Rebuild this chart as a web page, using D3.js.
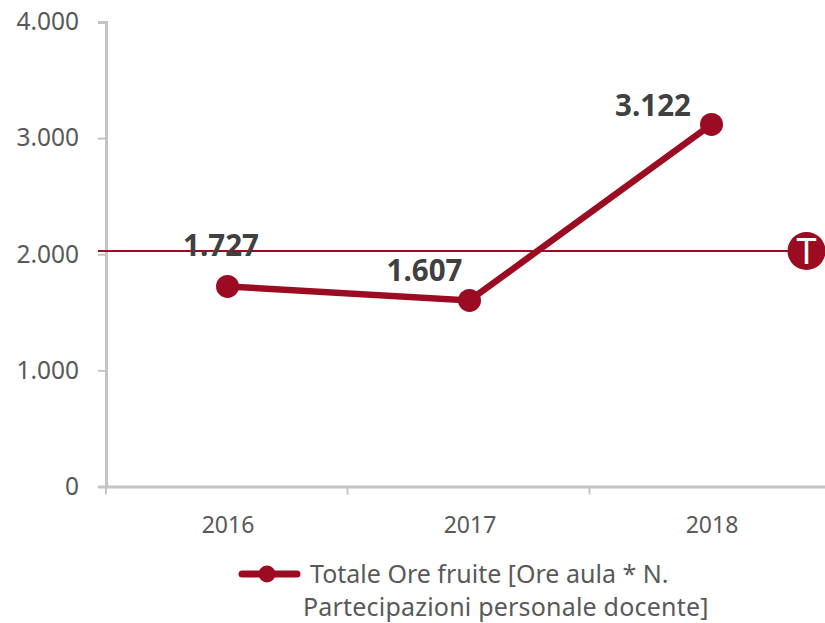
<!DOCTYPE html>
<html><head><meta charset="utf-8">
<script src="https://cdn.jsdelivr.net/npm/d3@7/dist/d3.min.js"></script>
<style>html,body{margin:0;padding:0;background:#fff}svg{display:block}text{font-family:"Noto Sans",sans-serif}</style>
</head><body><svg id="c" width="825" height="623"></svg>
<script>
const categories=["2016","2017","2018"];
const values=[1727,1607,3122];
const valueLabels=["1.727","1.607","3.122"];
const yTicks=[0,1000,2000,3000,4000];
const yTickLabels=["0","1.000","2.000","3.000","4.000"];
const targetValue=2028;
const legendLines=["Totale Ore fruite [Ore aula * N.","Partecipazioni personale docente]"];
const red="#9b0c23",grey="#595959",axisC="#c4c4c4";
const svg=d3.select("#c");
const x=d3.scaleBand().domain(categories).range([106,832]);
const y=d3.scaleLinear().domain([0,4000]).range([486.5,22]);
const gy=svg.append("g").attr("transform","translate(106,0)").call(d3.axisLeft(y).tickValues(yTicks).tickSize(8).tickPadding(10).tickFormat((d,i)=>yTickLabels[i]));
const gx=svg.append("g").attr("transform","translate(0,486.5)").call(d3.axisBottom(x).tickSize(0).tickPadding(30));
gx.append("g").selectAll("line").data(x.domain().slice(1)).join("line").attr("x1",d=>x(d)-0.5).attr("x2",d=>x(d)-0.5).attr("y1",0).attr("y2",8).attr("stroke",axisC).attr("stroke-width",2);
gx.append("line").attr("x1",x(categories[0])).attr("x2",x(categories[0])).attr("y1",0).attr("y2",8).attr("stroke",axisC).attr("stroke-width",2);
[gy,gx].forEach(g=>{g.selectAll("path.domain").attr("stroke",axisC).attr("stroke-width",3).attr("fill","none");
 g.selectAll(".tick line").attr("stroke",axisC).attr("stroke-width",2);
 g.selectAll("text").attr("fill",grey).attr("font-family",'"Noto Sans",sans-serif');});
gy.selectAll("text").attr("font-size",24.5).attr("x",-27);
gx.selectAll("text").attr("font-size",23).attr("dx",1);
svg.append("line").attr("x1",98).attr("x2",806).attr("y1",y(targetValue)).attr("y2",y(targetValue)).attr("stroke",red).attr("stroke-width",2);
const cx=d=>x(d)+x.bandwidth()/2+0.5;
const line=d3.line().x((d,i)=>cx(categories[i])).y(d=>y(d)+0.5);
svg.append("path").attr("d",line(values)).attr("fill","none").attr("stroke",red).attr("stroke-width",6.5);
svg.selectAll("circle.p").data(values).join("circle").attr("class","p").attr("cx",(d,i)=>cx(categories[i])).attr("cy",d=>y(d)+0.5).attr("r",11.5).attr("fill",red);
svg.selectAll("text.v").data(values).join("text").attr("class","v").attr("x",(d,i)=>cx(categories[i])-[6.5,45,58.5][i]).attr("y",(d,i)=>y(d)-[30,19,8][i]).attr("text-anchor","middle").attr("font-size",29.5).attr("font-weight",700).attr("fill","#404040").text((d,i)=>valueLabels[i]);
svg.append("circle").attr("cx",806.5).attr("cy",y(targetValue)).attr("r",19).attr("fill",red);
svg.append("text").attr("x",806.5).attr("y",y(targetValue)+13).attr("text-anchor","middle").attr("font-size",36).attr("fill","#fff").text("T");
svg.append("line").attr("x1",242).attr("x2",297).attr("y1",574).attr("y2",574).attr("stroke",red).attr("stroke-width",7).attr("stroke-linecap","round");
svg.append("circle").attr("cx",267).attr("cy",574).attr("r",8.5).attr("fill",red);
svg.selectAll("text.l").data(legendLines).join("text").attr("class","l").attr("x",(d,i)=>[310,303][i]).attr("y",(d,i)=>[583,616][i]).attr("font-size",25).attr("letter-spacing",(d,i)=>[0,0.2][i]).attr("fill",grey).text(d=>d);
</script></body></html>
